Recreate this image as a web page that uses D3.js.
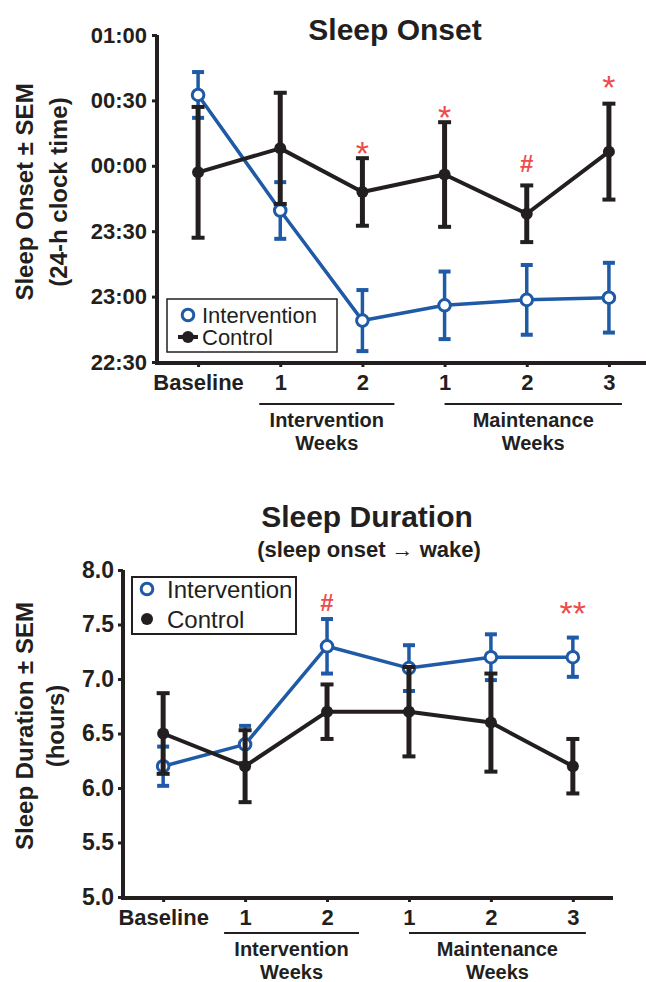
<!DOCTYPE html>
<html>
<head>
<meta charset="utf-8">
<script src="https://cdn.jsdelivr.net/npm/d3@7"></script>
<style>
  body { margin: 0; background: #fff; }
</style>
</head>
<body>
<script>
// ---------------- data ----------------
const categories = ["Baseline", "1", "2", "1", "2", "3"];

// Sleep onset, minutes relative to midnight (negative = before 00:00)
const onsetIntervention    = [32.5, -20.5, -71, -64, -61.5, -60.5];
const onsetInterventionSem = [10.5, 13, 14, 15.5, 16, 16];
const onsetControl         = [-3, 8, -12, -4, -22, 6.5];
const onsetControlSem      = [30, 25.5, 15.5, 24, 13, 22];
const onsetMarks           = ["", "", "*", "*", "#", "*"];
const onsetMarkLevel       = [null, null, 9.5, 26, 1, 39.5];
const onsetTicks           = [-90, -60, -30, 0, 30, 60];

// Sleep duration, hours
const durIntervention    = [6.2, 6.4, 7.3, 7.1, 7.2, 7.2];
const durInterventionSem = [0.18, 0.17, 0.25, 0.21, 0.21, 0.18];
const durControl         = [6.5, 6.2, 6.7, 6.7, 6.6, 6.2];
const durControlSem      = [0.37, 0.33, 0.25, 0.41, 0.45, 0.25];
const durMarks           = ["", "", "#", "", "", "**"];
const durMarkLevel       = [null, null, 7.7, null, null, 7.68];
const durTicks           = [5.0, 5.5, 6.0, 6.5, 7.0, 7.5, 8.0];

const seriesNames = ["Intervention", "Control"];

// ---------------- look ----------------
const W = 646, H = 982;
const FONT = "Arial, 'Liberation Sans', Helvetica, sans-serif";
const ink = "#231f20", blue = "#1f5aa6", red = "#ef4b4b";

const svg = d3.select("body").append("svg")
    .attr("width", W)
    .attr("height", H)
    .attr("font-family", FONT);

// clock label for minutes after midnight
const clock = m => {
  let t = (m + 1440) % 1440;
  return d3.format("02")(Math.floor(t / 60)) + ":" + d3.format("02")(t % 60);
};

function panel(p) {
  const x = d3.scalePoint().domain(d3.range(categories.length))
      .range([p.left, p.right]).padding(p.pad);
  const y = d3.scaleLinear().domain(p.yDomain).range([p.bottom, p.top]);

  // y axis
  const gy = svg.append("g")
      .attr("transform", `translate(${p.left},0)`)
      .attr("font-family", FONT)
      .call(d3.axisLeft(y).tickValues(p.ticks).tickFormat(p.fmt)
        .tickSize(5).tickSizeOuter(0).tickPadding(p.yPad));
  gy.select(".domain").attr("stroke", ink).attr("stroke-width", 4)
      .attr("d", `M0,${p.bottom + 2}V${p.top}`);
  gy.selectAll(".tick line").attr("stroke", ink).attr("stroke-width", 3);
  gy.selectAll(".tick text").attr("font-size", p.tickFont).attr("font-weight", "bold").attr("fill", ink);

  // x axis
  const gx = svg.append("g")
      .attr("transform", `translate(0,${p.bottom + 1})`)
      .attr("font-family", FONT)
      .call(d3.axisBottom(x).tickFormat(i => categories[i])
        .tickSize(4).tickSizeOuter(0).tickPadding(7));
  gx.select(".domain").attr("stroke", ink).attr("stroke-width", 4)
      .attr("d", `M${p.left - 2},0H${p.right}`);
  gx.selectAll(".tick line").attr("stroke", ink).attr("stroke-width", 3);
  gx.selectAll(".tick text").attr("font-size", 22).attr("font-weight", "bold").attr("fill", ink);

  // group brackets under the week numbers
  const groups = [
    {label: ["Intervention", "Weeks"], x0: x(1) - 21, x1: x(2) + 32},
    {label: ["Maintenance", "Weeks"], x0: x(3), x1: x(5) + 13}
  ];
  groups.forEach(g => {
    svg.append("line")
        .attr("x1", g.x0).attr("x2", g.x1)
        .attr("y1", p.bracketY).attr("y2", p.bracketY)
        .attr("stroke", ink).attr("stroke-width", 2);
    g.label.forEach((t, k) => {
      svg.append("text")
          .attr("x", (g.x0 + g.x1) / 2)
          .attr("y", p.bracketY + 23 + k * 23)
          .attr("text-anchor", "middle")
          .attr("font-size", 20).attr("font-weight", "bold").attr("fill", ink)
          .text(t);
    });
  });

  // titles
  svg.append("text")
      .attr("x", p.titleX).attr("y", p.titleY)
      .attr("text-anchor", "middle")
      .attr("font-size", 30).attr("font-weight", "bold").attr("fill", ink)
      .text(p.title);
  if (p.subtitle) {
    svg.append("text")
        .attr("x", p.titleX + 2).attr("y", p.titleY + 30)
        .attr("text-anchor", "middle")
        .attr("font-size", 22).attr("font-weight", "bold").attr("fill", ink)
        .text(p.subtitle);
  }
  p.yLabel.forEach((t, k) => {
    svg.append("text")
        .attr("transform", `translate(${p.yLabelX[k]},${p.yLabelY}) rotate(-90)`)
        .attr("text-anchor", "middle")
        .attr("font-size", 24).attr("font-weight", "bold").attr("fill", ink)
        .text(t);
  });

  // series: intervention first, control on top
  const series = [
    {vals: p.int, sem: p.intSem, color: blue, open: true, lw: 3.5, bw: 3.5, cap: 12},
    {vals: p.ctl, sem: p.ctlSem, color: ink, open: false, lw: 4, bw: 5, cap: 13}
  ];
  series.forEach(s => {
    const g = svg.append("g");
    g.append("path")
        .datum(s.vals)
        .attr("fill", "none")
        .attr("stroke", s.color)
        .attr("stroke-width", s.lw)
        .attr("stroke-linejoin", "round")
        .attr("d", d3.line().x((d, i) => x(i)).y(d => y(d)));
    const eb = g.selectAll(".eb").data(s.vals).enter().append("g");
    eb.append("line")
        .attr("x1", (d, i) => x(i)).attr("x2", (d, i) => x(i))
        .attr("y1", (d, i) => y(d - s.sem[i])).attr("y2", (d, i) => y(d + s.sem[i]))
        .attr("stroke", s.color).attr("stroke-width", s.bw);
    [-1, 1].forEach(sg => {
      eb.append("line")
          .attr("x1", (d, i) => x(i) - s.cap / 2).attr("x2", (d, i) => x(i) + s.cap / 2)
          .attr("y1", (d, i) => y(d + sg * s.sem[i])).attr("y2", (d, i) => y(d + sg * s.sem[i]))
          .attr("stroke", s.color).attr("stroke-width", 4);
    });
    g.selectAll("circle").data(s.vals).enter().append("circle")
        .attr("cx", (d, i) => x(i)).attr("cy", d => y(d))
        .attr("r", s.open ? 5.8 : 6)
        .attr("fill", s.open ? "#fff" : s.color)
        .attr("stroke", s.color)
        .attr("stroke-width", s.open ? 3 : 0);
  });

  // significance marks
  p.marks.forEach((m, i) => {
    if (!m) return;
    const isStar = m.indexOf("*") >= 0;
    const fs = isStar ? 34 : 24;
    svg.append("text")
        .attr("x", x(i)).attr("y", y(p.markLevel[i]) + (isStar ? 0.58 : 0.36) * fs)
        .attr("text-anchor", "middle")
        .attr("font-size", fs).attr("fill", red)
        .attr("font-weight", isStar ? "normal" : "bold")
        .text(m);
  });

  // legend
  const L = p.legend;
  svg.append("rect")
      .attr("x", L.x).attr("y", L.y).attr("width", L.w).attr("height", L.h)
      .attr("fill", "#fff").attr("stroke", ink).attr("stroke-width", L.sw);
  seriesNames.forEach((n, k) => {
    const cy = L.y + L.row0 + k * L.dy;
    if (k === 1 && L.lineMark) {
      svg.append("line")
          .attr("x1", L.mx - 10).attr("x2", L.mx + 10)
          .attr("y1", cy).attr("y2", cy)
          .attr("stroke", ink).attr("stroke-width", 4);
    }
    svg.append("circle")
        .attr("cx", L.mx).attr("cy", cy)
        .attr("r", k === 0 ? 5.8 : 6)
        .attr("fill", k === 0 ? "#fff" : ink)
        .attr("stroke", k === 0 ? blue : ink)
        .attr("stroke-width", k === 0 ? 3 : 0);
    svg.append("text")
        .attr("x", L.tx).attr("y", cy + 0.36 * L.fs)
        .attr("font-size", L.fs).attr("fill", ink)
        .text(n);
  });
}

// ---------------- top: sleep onset ----------------
panel({
  left: 157, right: 650, pad: 0.5,
  top: 35, bottom: 362, yDomain: [-90, 60],
  ticks: onsetTicks, fmt: clock, tickFont: 22, yPad: 5,
  bracketY: 404,
  title: "Sleep Onset", subtitle: null, titleX: 395, titleY: 40,
  yLabel: ["Sleep Onset \u00b1 SEM", "(24-h clock time)"], yLabelX: [33, 67], yLabelY: 192,
  int: onsetIntervention, intSem: onsetInterventionSem,
  ctl: onsetControl, ctlSem: onsetControlSem,
  marks: onsetMarks, markLevel: onsetMarkLevel,
  legend: {x: 167, y: 299, w: 170, h: 53, sw: 1.5, mx: 188, tx: 202, row0: 16, dy: 22, fs: 22, lineMark: true}
});

// ---------------- bottom: sleep duration ----------------
panel({
  left: 123, right: 613, pad: 0.49,
  top: 570, bottom: 897, yDomain: [5, 8],
  ticks: durTicks, fmt: d3.format(".1f"), tickFont: 23, yPad: 4,
  bracketY: 933,
  title: "Sleep Duration", subtitle: "(sleep onset \u2192 wake)", titleX: 367, titleY: 527,
  yLabel: ["Sleep Duration \u00b1 SEM", "(hours)"], yLabelX: [33, 64], yLabelY: 726,
  int: durIntervention, intSem: durInterventionSem,
  ctl: durControl, ctlSem: durControlSem,
  marks: durMarks, markLevel: durMarkLevel,
  legend: {x: 132, y: 577, w: 164, h: 57, sw: 2, mx: 147, tx: 167, row0: 12, dy: 30, fs: 24, lineMark: false}
});
</script>
</body>
</html>
